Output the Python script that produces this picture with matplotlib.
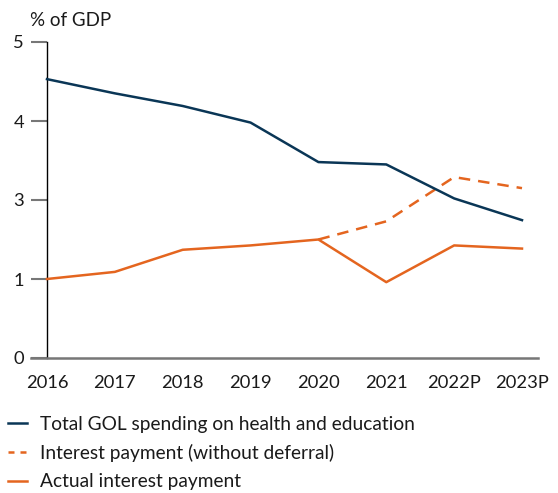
import numpy as np
import matplotlib
matplotlib.use("Agg")
import matplotlib.pyplot as plt
from matplotlib.lines import Line2D

plt.rcParams['font.family'] = ['Lato', 'DejaVu Sans']

years = ["2016", "2017", "2018", "2019", "2020", "2021", "2022P", "2023P"]
spending = [4.53, 4.35, 4.19, 3.98, 3.48, 3.45, 3.02, 2.49]
interest_no_deferral_years = ["2020", "2021", "2022P", "2023P"]
interest_no_deferral = [2.0, 2.46, 3.29, 3.15]
interest_actual = [1.0, 1.18, 1.74, 1.85, 2.0, 0.96, 1.85, 1.77]
ytick_values = [0, 1, 3, 4, 5]
ytick_labels = ["0", "1", "3", "4", "5"]
legend_labels = ["Total GOL spending on health and education",
                 "Interest payment (without deferral)",
                 "Actual interest payment"]

BLUE = "#0a3656"
ORANGE = "#e4651f"

# axis with evenly spaced (but unevenly valued) ticks, as in the original
tick_pos = np.arange(len(ytick_values), dtype=float)
fwd = lambda v: np.interp(v, ytick_values, tick_pos)
inv = lambda p: np.interp(p, tick_pos, ytick_values)

W, H = 558, 493
fig = plt.figure(figsize=(W / 100, H / 100), dpi=100)
ax = fig.add_axes([31 / W, (H - 358) / H, (538 - 31) / W, 316 / H])
ax.set_yscale('function', functions=(fwd, inv))

x = np.arange(len(years))
xi = [years.index(y) for y in interest_no_deferral_years]
lw = 2.5 * 72 / 100
ax.plot(x, spending, color=BLUE, lw=lw, zorder=3)
ax.plot(xi, interest_no_deferral, color=ORANGE, lw=lw, linestyle=(0, (4.6, 3.2)), zorder=2)
ax.plot(x, interest_actual, color=ORANGE, lw=lw, zorder=4)

step = (522 - 47) / 7
ax.set_xlim(-16 / step, 7 + 16 / step)
ax.set_ylim(0, 5)

for s in ['top', 'right']:
    ax.spines[s].set_visible(False)
ax.spines['left'].set_position(('data', 0))
ax.spines['left'].set_color('black')
ax.spines['left'].set_linewidth(1.0)
ax.spines['bottom'].set_color('#777777')
ax.spines['bottom'].set_linewidth(1.8)

ax.set_yticks(ytick_values)
ax.set_yticklabels(ytick_labels)
ax.yaxis.set_minor_locator(matplotlib.ticker.NullLocator())
ax.tick_params(axis='y', direction='out', length=16 * 0.72, width=1.5, color='#777777',
               pad=5, labelsize=13.2, labelcolor='#1a1a1a')
ax.set_xticks(x)
ax.set_xticklabels(years)
ax.tick_params(axis='x', length=0, pad=12, labelsize=13.2, labelcolor='#1a1a1a')

fig.text(30 / W, 1 - 20 / H, "% of GDP", fontsize=13.5, va='center', ha='left', color='#1a1a1a')

handles = [Line2D([], [], color=BLUE, lw=lw),
           Line2D([], [], color=ORANGE, lw=lw, linestyle=(0, (2.4, 2.4))),
           Line2D([], [], color=ORANGE, lw=lw)]
fig.legend(handles, legend_labels, loc='upper left', bbox_to_anchor=(8 / W, 1 - 416 / H),
           frameon=False, fontsize=13.8, handlelength=1.0, handletextpad=0.65,
           labelspacing=0.58, borderaxespad=0, borderpad=0, labelcolor='#1a1a1a')

fig.savefig("out.png", dpi=100)
